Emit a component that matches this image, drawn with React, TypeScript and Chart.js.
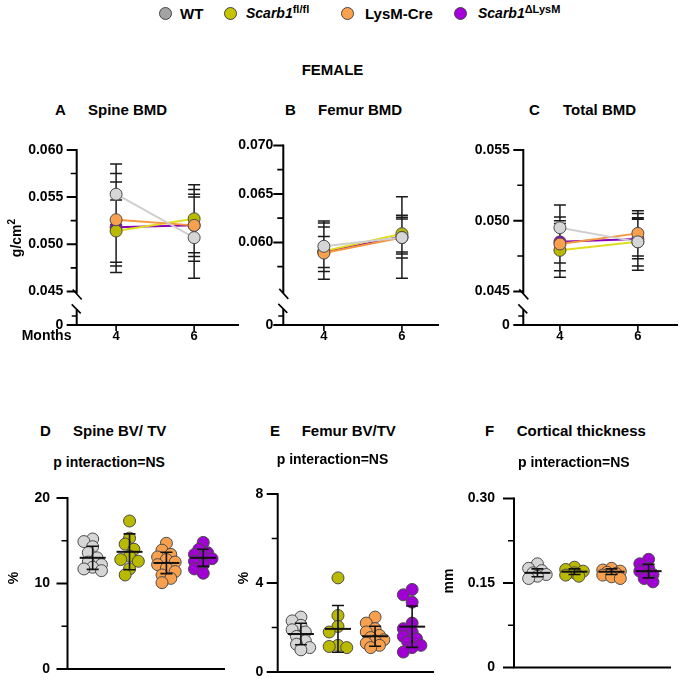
import React, { useEffect, useRef } from 'react';
import { Chart, registerables } from 'chart.js';
Chart.register(...registerables);

const FONT = '"Liberation Sans", Arial, Helvetica, sans-serif';

// ---------- data ----------
const GROUPS = ['WT', 'Scarb1 fl/fl', 'LysM-Cre', 'Scarb1 ΔLysM'];
const MONTHS = [4, 6];
const MONTH_LABELS = ['4', '6'];

// BMD means / SD at 4 and 6 months (WT, fl/fl, LysM-Cre, ΔLysM)
const SPINE_WT = [0.0553, 0.0507];
const SPINE_FL = [0.0514, 0.0527];
const SPINE_LYSM = [0.0526, 0.0520];
const SPINE_DELTA = [0.0518, 0.0520];
const SPINE_SD_WT = [0.0032, 0.0043];
const SPINE_SD_FL = [0.0033, 0.0036];
const SPINE_SD_LYSM = [0.0049, 0.0038];
const SPINE_SD_DELTA = [0.0048, 0.0033];

const FEMUR_WT = [0.0596, 0.0605];
const FEMUR_FL = [0.0591, 0.0609];
const FEMUR_LYSM = [0.0589, 0.0605];
const FEMUR_DELTA = [0.0590, 0.0606];
const FEMUR_SD_WT = [0.0026, 0.0042];
const FEMUR_SD_FL = [0.0029, 0.0019];
const FEMUR_SD_LYSM = [0.0027, 0.0021];
const FEMUR_SD_DELTA = [0.0016, 0.0018];

const TOTAL_WT = [0.0495, 0.0485];
const TOTAL_FL = [0.0479, 0.0485];
const TOTAL_LYSM = [0.04835, 0.0491];
const TOTAL_DELTA = [0.0485, 0.0487];
const TOTAL_SD_WT = [0.0016, 0.0020];
const TOTAL_SD_FL = [0.0019, 0.0017];
const TOTAL_SD_LYSM = [0.0019, 0.0016];
const TOTAL_SD_DELTA = [0.0015, 0.0014];

// tick labels
const A_YTICKS = [0.045, 0.050, 0.055, 0.060];
const A_YLABELS = ['0.045', '0.050', '0.055', '0.060'];
const A_YMINOR = [0.0475, 0.0525, 0.0575];
const B_YTICKS = [0.060, 0.065, 0.070];
const B_YLABELS = ['0.060', '0.065', '0.070'];
const B_YMINOR = [0.0575, 0.0625, 0.0675];
const C_YTICKS = [0.045, 0.050, 0.055];
const C_YLABELS = ['0.045', '0.050', '0.055'];
const C_YMINOR = [0.0475, 0.0525];

// Dot plots
const D_WT = [15.2, 14.9, 14.3, 13.6, 13.0, 12.5, 12.2, 11.9, 11.7, 11.5];
const D_FL = [17.3, 15.3, 14.6, 14.0, 13.2, 12.8, 12.6, 11.7, 11.0];
const D_LYSM = [14.7, 13.9, 13.4, 13.1, 12.8, 12.5, 12.2, 11.8, 11.4, 11.0, 10.6, 10.1];
const D_DELTA = [14.8, 14.0, 13.6, 13.4, 13.1, 12.9, 12.6, 12.2, 11.7, 11.2];
const D_MEAN = [13.0, 13.7, 12.4, 13.0];
const D_SD = [1.35, 2.1, 1.25, 1.0];
const D_YTICKS = [0, 10, 20];
const D_YLABELS = ['0', '10', '20'];
const D_YMINOR = [5, 15];

const E_WT = [2.47, 2.3, 2.1, 1.9, 1.8, 1.6, 1.4, 1.25, 1.1, 1.0];
const E_FL = [4.23, 2.54, 2.05, 1.8, 1.2, 1.15, 1.1];
const E_LYSM = [2.47, 2.2, 1.95, 1.8, 1.65, 1.55, 1.45, 1.4, 1.3, 1.2, 1.1];
const E_DELTA = [3.71, 3.47, 3.14, 2.2, 1.95, 1.8, 1.6, 1.5, 1.35, 1.2, 1.1, 0.9];
const E_MEAN = [1.71, 1.94, 1.61, 2.04];
const E_SD = [0.48, 1.05, 0.45, 0.93];
const E_YTICKS = [0, 4, 8];
const E_YLABELS = ['0', '4', '8'];
const E_YMINOR = [2, 6];

const F_WT = [0.184, 0.176, 0.172, 0.168, 0.165, 0.162, 0.158];
const F_FL = [0.178, 0.174, 0.171, 0.168, 0.164, 0.162];
const F_LYSM = [0.176, 0.173, 0.171, 0.169, 0.167, 0.164, 0.161, 0.158];
const F_DELTA = [0.192, 0.184, 0.176, 0.171, 0.165, 0.158, 0.152];
const F_MEAN = [0.168, 0.170, 0.170, 0.171];
const F_SD = [0.007, 0.005, 0.005, 0.012];
const F_YTICKS = [0, 0.15, 0.30];
const F_YLABELS = ['0', '0.15', '0.30'];
const F_YMINOR = [0.075, 0.225];

// ---------- style ----------
const FILL = ['#d6d6d6', '#b9b900', '#f9a04e', '#a000d4'];
const LINE = ['#cfcfcf', '#dede1e', '#f5973d', '#8a00b8'];
const LEGEND_FILL = ['#a3a3a3', '#c4c400', '#fba04c', '#a400dc'];
const EDGE = '#4a4a4a';
const TICK_FONT = { family: FONT, weight: 'bold' as const, size: 14 };

type Geo = {
  left: number; top: number; width: number; height: number;
  padding: { left: number; top: number; right: number; bottom: number };
  yWidth: number; xH: number;
};

function geometry(canvasLeft: number, axisLeft: number, axisTop: number, axisBottom: number, axisRight: number): Geo {
  const top = Math.floor(axisTop - 14);
  const xH = 20;
  const height = Math.ceil(axisBottom + xH + 2 - top);
  const width = Math.ceil(axisRight + 3 - canvasLeft);
  return {
    left: canvasLeft, top, width, height,
    padding: { left: 0, top: axisTop - top, right: canvasLeft + width - axisRight, bottom: top + height - axisBottom - xH },
    yWidth: axisLeft - canvasLeft, xH,
  };
}

function axisPlugin(o: { breakAt?: number; majors: number[]; minors: number[]; xTicks?: number[]; majorLen: number }) {
  return {
    id: 'axesDraw',
    afterDraw(chart: any) {
      const { ctx, chartArea: a, scales } = chart;
      const x = scales.x, y = scales.y;
      const ax = a.left, yb = a.bottom;
      ctx.save();
      ctx.strokeStyle = '#000';
      ctx.lineWidth = 2;
      ctx.beginPath();
      if (o.breakAt != null) {
        const yl = y.getPixelForValue(o.breakAt);
        ctx.moveTo(ax, a.top - 1); ctx.lineTo(ax, yl + 2);
        ctx.moveTo(ax, yl + 18); ctx.lineTo(ax, yb + 1);
      } else {
        ctx.moveTo(ax, a.top - 1); ctx.lineTo(ax, yb + 1);
      }
      ctx.moveTo(ax - 1, yb); ctx.lineTo(a.right, yb);
      ctx.stroke();
      if (o.breakAt != null) {
        const yl = y.getPixelForValue(o.breakAt);
        ctx.lineWidth = 1.6;
        ctx.beginPath();
        ctx.moveTo(ax - 4, yl - 2); ctx.lineTo(ax + 5, yl + 8);
        ctx.moveTo(ax - 5, yl + 13); ctx.lineTo(ax + 4, yl + 22);
        ctx.moveTo(ax - 5, yb - 9); ctx.lineTo(ax, yb - 9);
        ctx.stroke();
      }
      ctx.lineWidth = 2;
      ctx.beginPath();
      for (const v of o.majors) {
        const py = y.getPixelForValue(v);
        ctx.moveTo(ax - o.majorLen, py); ctx.lineTo(ax, py);
      }
      ctx.moveTo(ax - o.majorLen, yb); ctx.lineTo(ax, yb);
      ctx.stroke();
      ctx.lineWidth = 1.6;
      ctx.beginPath();
      for (const v of o.minors) {
        const py = y.getPixelForValue(v);
        ctx.moveTo(ax - 6, py); ctx.lineTo(ax, py);
      }
      if (o.xTicks) {
        for (const v of o.xTicks) {
          const px = x.getPixelForValue(v);
          ctx.moveTo(px, yb); ctx.lineTo(px, yb + 6);
        }
      }
      ctx.stroke();
      ctx.restore();
    },
  };
}

function errPlugin(means: number[][], sds: number[][]) {
  return {
    id: 'errBars',
    beforeDatasetsDraw(chart: any) {
      const { ctx, scales } = chart;
      const x = scales.x, y = scales.y;
      ctx.save();
      ctx.strokeStyle = '#1a1a1a';
      ctx.lineWidth = 1.5;
      ctx.beginPath();
      means.forEach((m, g) => {
        MONTHS.forEach((mo, j) => {
          const cx = x.getPixelForValue(mo);
          const t = y.getPixelForValue(m[j] + sds[g][j]);
          const b = y.getPixelForValue(m[j] - sds[g][j]);
          ctx.moveTo(cx, t); ctx.lineTo(cx, b);
          ctx.moveTo(cx - 6, t); ctx.lineTo(cx + 6, t);
          ctx.moveTo(cx - 6, b); ctx.lineTo(cx + 6, b);
        });
      });
      ctx.stroke();
      ctx.restore();
    },
  };
}

function meanSdPlugin(means: number[], sds: number[]) {
  return {
    id: 'meanSd',
    afterDatasetsDraw(chart: any) {
      const { ctx, scales } = chart;
      const x = scales.x, y = scales.y;
      ctx.save();
      ctx.strokeStyle = '#111';
      means.forEach((m, i) => {
        const cx = x.getPixelForValue(i + 1);
        const ym = y.getPixelForValue(m);
        const t = y.getPixelForValue(m + sds[i]);
        const b = y.getPixelForValue(m - sds[i]);
        ctx.lineWidth = 2;
        ctx.beginPath();
        ctx.moveTo(cx - 13, ym); ctx.lineTo(cx + 13, ym);
        ctx.stroke();
        ctx.lineWidth = 1.6;
        ctx.beginPath();
        ctx.moveTo(cx, t); ctx.lineTo(cx, b);
        ctx.moveTo(cx - 6, t); ctx.lineTo(cx + 6, t);
        ctx.moveTo(cx - 6, b); ctx.lineTo(cx + 6, b);
        ctx.stroke();
      });
      ctx.restore();
    },
  };
}

// deterministic swarm offsets (in x units) so points of a group spread sideways
function swarm(values: number[], xPx: number, yPx: number): number[] {
  const r = 6;
  const step = 4.5;
  const cand = [0, -1, 1, -2, 2];
  const order = values.map((_, i) => i).sort((a, b) => values[b] - values[a]);
  const placed: { x: number; y: number }[] = [];
  const offs = new Array(values.length).fill(0);
  for (const i of order) {
    const py = values[i] * yPx;
    let best = 0, bestD = -Infinity;
    for (const c of cand) {
      const px = c * step;
      let minD = Infinity;
      for (const p of placed) minD = Math.min(minD, Math.hypot(p.x - px, p.y - py));
      if (minD >= 1.3 * r) { best = px; break; }
      if (minD > bestD) { bestD = minD; best = px; }
    }
    placed.push({ x: best, y: py });
    offs[i] = best / xPx;
  }
  return offs;
}

function yScale(g: Geo, min: number, max: number, vals: number[], labels: string[], pad: number) {
  return {
    type: 'linear', min, max,
    afterFit: (s: any) => { s.width = g.yWidth; },
    afterBuildTicks: (s: any) => { s.ticks = vals.map((v) => ({ value: v })); },
    ticks: { callback: (_v: any, i: number) => labels[i], font: TICK_FONT, color: '#000', padding: pad, autoSkip: false },
    grid: { display: false, drawTicks: false },
    border: { display: false },
  };
}

function baseOptions(g: Geo) {
  return {
    animation: false, responsive: false, maintainAspectRatio: false, events: [],
    layout: { padding: g.padding },
    plugins: { legend: { display: false }, tooltip: { enabled: false }, title: { display: false } },
  };
}

type BmdSpec = {
  g: Geo; xmin: number; xmax: number; ymin: number; ymax: number;
  ticks: number[]; labels: string[]; minors: number[]; breakAt: number; pad: number;
  means: number[][]; sds: number[][];
};

function bmdConfig(s: BmdSpec): any {
  // Chart.js paints the first dataset last (on top): WT on top, then LysM-Cre, fl/fl, ΔLysM
  const stackOrder = [0, 2, 1, 3];
  const datasets = stackOrder.map((gi) => ({
    label: GROUPS[gi],
    data: MONTHS.map((m, j) => ({ x: m, y: s.means[gi][j] })),
    borderColor: LINE[gi], borderWidth: 2,
    pointRadius: 6, pointBackgroundColor: FILL[gi], pointBorderColor: EDGE, pointBorderWidth: 1,
    tension: 0, clip: false,
  }));
  const tickVals = [s.ymin, ...s.ticks];
  const tickLabels = ['0', ...s.labels];
  return {
    type: 'line',
    data: { datasets },
    options: {
      ...baseOptions(s.g),
      scales: {
        x: {
          type: 'linear', min: s.xmin, max: s.xmax,
          afterFit: (sc: any) => { sc.height = s.g.xH; },
          afterBuildTicks: (sc: any) => { sc.ticks = MONTHS.map((v) => ({ value: v })); },
          ticks: { callback: (_v: any, i: number) => MONTH_LABELS[i], font: { ...TICK_FONT, size: 13 }, color: '#000', padding: 4, maxRotation: 0, autoSkip: false },
          grid: { display: false, drawTicks: false }, border: { display: false },
        },
        y: yScale(s.g, s.ymin, s.ymax, tickVals, tickLabels, s.pad),
      },
    },
    plugins: [errPlugin(s.means, s.sds), axisPlugin({ breakAt: s.breakAt, majors: s.ticks, minors: s.minors, xTicks: MONTHS, majorLen: 10 })],
  };
}

type DotSpec = {
  g: Geo; axisTop: number; axisBottom: number; axisLeft: number; axisRight: number;
  xmin: number; xmax: number; ymax: number;
  groups: number[][]; means: number[]; sds: number[];
  ticks: number[]; labels: string[]; minors: number[]; pad: number;
};

function dotConfig(s: DotSpec): any {
  const xPx = (s.axisRight - s.axisLeft) / (s.xmax - s.xmin);
  const yPx = (s.axisBottom - s.axisTop) / s.ymax;
  const datasets = s.groups.map((vals, gi) => {
    const offs = swarm(vals, xPx, yPx);
    return {
      label: GROUPS[gi],
      data: vals.map((v, k) => ({ x: gi + 1 + offs[k], y: v })),
      pointRadius: 6, pointBackgroundColor: FILL[gi], pointBorderColor: EDGE, pointBorderWidth: 1,
      clip: false,
    };
  });
  return {
    type: 'scatter',
    data: { datasets },
    options: {
      ...baseOptions(s.g),
      scales: {
        x: {
          type: 'linear', min: s.xmin, max: s.xmax,
          afterFit: (sc: any) => { sc.height = s.g.xH; },
          ticks: { display: false },
          grid: { display: false, drawTicks: false }, border: { display: false },
        },
        y: yScale(s.g, 0, s.ymax, s.ticks, s.labels, s.pad),
      },
    },
    plugins: [meanSdPlugin(s.means, s.sds), axisPlugin({ majors: s.ticks, minors: s.minors, majorLen: 11 })],
  };
}

function ChartBox({ g, make }: { g: Geo; make: () => any }) {
  const ref = useRef<HTMLCanvasElement>(null);
  useEffect(() => {
    const chart = new Chart(ref.current as HTMLCanvasElement, make());
    return () => chart.destroy();
  }, []);
  return (
    <canvas ref={ref} width={g.width} height={g.height}
      style={{ position: 'absolute', left: g.left, top: g.top, width: g.width, height: g.height }} />
  );
}

function T({ x, y, size = 15, children, style }: any) {
  return (
    <div style={{ position: 'absolute', left: x, top: y - size / 2, fontSize: size, lineHeight: `${size}px`, fontWeight: 'bold', fontFamily: FONT, whiteSpace: 'nowrap', color: '#000', ...style }}>
      {children}
    </div>
  );
}

function R({ cx, cy, size = 14, children }: any) {
  return (
    <div style={{ position: 'absolute', left: cx, top: cy, transform: 'translate(-50%, -50%) rotate(-90deg)', fontSize: size, lineHeight: `${size}px`, fontWeight: 'bold', fontFamily: FONT, whiteSpace: 'nowrap', color: '#000' }}>
      {children}
    </div>
  );
}

function Dot({ cx, cy, color }: any) {
  return <div style={{ position: 'absolute', left: cx - 6.5, top: cy - 6.5, width: 11, height: 11, borderRadius: '50%', background: color, border: '1px solid #444' }} />;
}

const gA = geometry(0, 76.7, 142.7, 325, 243);
const gB = geometry(230, 283.3, 141.7, 325, 443);
const gC = geometry(460, 523.3, 142.7, 325, 682);
const gD = geometry(0, 67.5, 486, 672.7, 229);
const gE = geometry(230, 277.7, 485.7, 672.7, 438);
const gF = geometry(455, 514, 485.7, 672.7, 675);

export default function App() {
  const sup = { fontSize: 11, position: 'relative' as const, top: -5, fontStyle: 'normal' };
  return (
    <div style={{ position: 'absolute', left: 0, top: 0, width: 686, height: 682, overflow: 'hidden', background: '#fff' }}>
      <ChartBox g={gA} make={() => bmdConfig({
        g: gA, xmin: 2.99, xmax: 7.15, ymin: 0.04144, ymax: 0.060,
        ticks: A_YTICKS, labels: A_YLABELS, minors: A_YMINOR, breakAt: 0.045, pad: 13.5,
        means: [SPINE_WT, SPINE_FL, SPINE_LYSM, SPINE_DELTA],
        sds: [SPINE_SD_WT, SPINE_SD_FL, SPINE_SD_LYSM, SPINE_SD_DELTA],
      })} />
      <ChartBox g={gB} make={() => bmdConfig({
        g: gB, xmin: 2.96, xmax: 6.95, ymin: 0.051485, ymax: 0.070,
        ticks: B_YTICKS, labels: B_YLABELS, minors: B_YMINOR, breakAt: 0.055, pad: 10,
        means: [FEMUR_WT, FEMUR_FL, FEMUR_LYSM, FEMUR_DELTA],
        sds: [FEMUR_SD_WT, FEMUR_SD_FL, FEMUR_SD_LYSM, FEMUR_SD_DELTA],
      })} />
      <ChartBox g={gC} make={() => bmdConfig({
        g: gC, xmin: 3.06, xmax: 7.03, ymin: 0.042624, ymax: 0.055,
        ticks: C_YTICKS, labels: C_YLABELS, minors: C_YMINOR, breakAt: 0.045, pad: 13.5,
        means: [TOTAL_WT, TOTAL_FL, TOTAL_LYSM, TOTAL_DELTA],
        sds: [TOTAL_SD_WT, TOTAL_SD_FL, TOTAL_SD_LYSM, TOTAL_SD_DELTA],
      })} />
      <ChartBox g={gD} make={() => dotConfig({
        g: gD, axisTop: 486, axisBottom: 672.7, axisLeft: 67.5, axisRight: 229,
        xmin: 0.317, xmax: 4.59, ymax: 20,
        groups: [D_WT, D_FL, D_LYSM, D_DELTA], means: D_MEAN, sds: D_SD,
        ticks: D_YTICKS, labels: D_YLABELS, minors: D_YMINOR, pad: 17.5,
      })} />
      <ChartBox g={gE} make={() => dotConfig({
        g: gE, axisTop: 485.7, axisBottom: 672.7, axisLeft: 277.7, axisRight: 438,
        xmin: 0.374, xmax: 4.59, ymax: 8,
        groups: [E_WT, E_FL, E_LYSM, E_DELTA], means: E_MEAN, sds: E_SD,
        ticks: E_YTICKS, labels: E_YLABELS, minors: E_YMINOR, pad: 14.5,
      })} />
      <ChartBox g={gF} make={() => dotConfig({
        g: gF, axisTop: 485.7, axisBottom: 672.7, axisLeft: 514, axisRight: 675,
        xmin: 0.368, xmax: 4.605, ymax: 0.30,
        groups: [F_WT, F_FL, F_LYSM, F_DELTA], means: F_MEAN, sds: F_SD,
        ticks: F_YTICKS, labels: F_YLABELS, minors: F_YMINOR, pad: 19,
      })} />

      {/* legend */}
      <Dot cx={165} cy={13} color={LEGEND_FILL[0]} />
      <T x={180} y={13}>WT</T>
      <Dot cx={230} cy={13} color={LEGEND_FILL[1]} />
      <T x={246} y={13} size={14} style={{ fontStyle: 'italic' }}>Scarb1<span style={sup}>fl/fl</span></T>
      <Dot cx={347} cy={13} color={LEGEND_FILL[2]} />
      <T x={365} y={13}>LysM-Cre</T>
      <Dot cx={460} cy={13} color={LEGEND_FILL[3]} />
      <T x={478} y={13} size={14} style={{ fontStyle: 'italic' }}>Scarb1<span style={sup}>ΔLysM</span></T>

      <T x={301.7} y={69}>FEMALE</T>

      <T x={55} y={109.5}>A</T>
      <T x={88} y={109.5}>Spine BMD</T>
      <T x={285} y={109.5}>B</T>
      <T x={318} y={109.5}>Femur BMD</T>
      <T x={529} y={109.5}>C</T>
      <T x={563} y={109.5}>Total BMD</T>

      <R cx={13.5} cy={238}>g/cm<sup style={{ fontSize: 10 }}>2</sup></R>
      <T x={21.7} y={335} size={14}>Months</T>

      <T x={40} y={430}>D</T>
      <T x={73} y={430}>Spine BV/ TV</T>
      <T x={270} y={430}>E</T>
      <T x={301.7} y={430}>Femur BV/TV</T>
      <T x={485} y={430}>F</T>
      <T x={516.7} y={430}>Cortical thickness</T>

      <T x={53.3} y={462} size={14}>p interaction=NS</T>
      <T x={276.7} y={458.5} size={14}>p interaction=NS</T>
      <T x={518} y={462} size={14}>p interaction=NS</T>

      <R cx={13} cy={578}>%</R>
      <R cx={243} cy={578}>%</R>
      <R cx={448} cy={581}>mm</R>
    </div>
  );
}
